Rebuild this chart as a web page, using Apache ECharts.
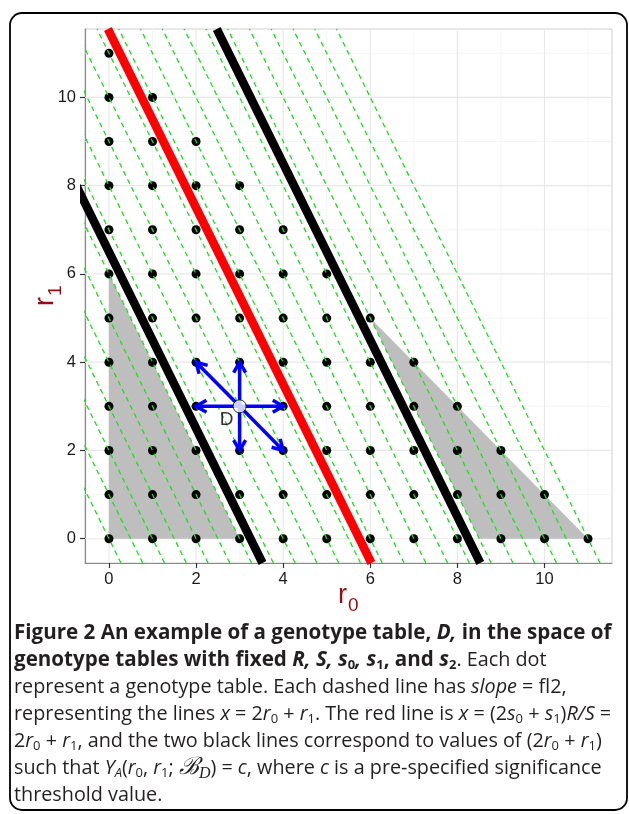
<!DOCTYPE html>
<html><head><meta charset="utf-8">
<script src="https://cdn.jsdelivr.net/npm/echarts@6/dist/echarts.min.js"></script>
<style>html,body{margin:0;padding:0;background:#fff}#c{width:629px;height:814px}</style>
</head><body><div id="c"></div>
<script>
// ---- data ----
const xTicks = [0, 2, 4, 6, 8, 10];
const yTicks = [0, 2, 4, 6, 8, 10];
const xMinorGrid = [1, 3, 5, 7, 9, 11];
const yMinorGrid = [1, 3, 5, 7, 9, 11];
const axisMin = -0.55, axisMax = 11.55;
// genotype tables: for each row r1, the largest r0 present
const rowR1 = [0, 1, 2, 3, 4, 5, 6, 7, 8, 9, 10, 11];
const rowMaxR0 = [11, 10, 9, 8, 7, 6, 5, 4, 3, 2, 1, 0];
// dashed lines 2*r0 + r1 = c
const dashedC = [0, 1, 2, 3, 4, 5, 6, 7, 8, 9, 10, 11, 12, 13, 14, 15, 16, 17, 18, 19, 20, 21, 22];
const redC = 11.5;
const blackC = [6.5, 16.5];
const grayLeft = [[0, 0], [0, 6], [3, 0]];
const grayRight = [[6, 5], [11, 0], [8.5, 0]];
const tableD = [3, 3];
const moves = [[2, 4], [3, 4], [4, 3], [2, 3], [3, 2], [4, 2]];
const labelD = [2.7, 2.7];

// ---- build ----
const points = [];
rowR1.forEach((r1, i) => {
  for (let r0 = 0; r0 <= rowMaxR0[i]; r0++) {
    if (!(r0 === tableD[0] && r1 === tableD[1])) points.push([r0, r1]);
  }
});
function lineFor(c) { return [[(c - axisMin) / 2, axisMin], [(c - axisMax) / 2, axisMax]]; }

const GREEN = '#1fdc1f';
const series = [];
// grid lines
series.push({
  type: 'custom', silent: true, z: 1, data: [[0, 0]],
  renderItem: function (params, api) {
    const ch = [];
    const add = (a, b, col, w) => ch.push({ type: 'line', shape: { x1: a[0], y1: a[1], x2: b[0], y2: b[1] }, style: { stroke: col, lineWidth: w } });
    xMinorGrid.forEach(v => add(api.coord([v, axisMin]), api.coord([v, axisMax]), '#f3f3f3', 0.8));
    yMinorGrid.forEach(v => add(api.coord([axisMin, v]), api.coord([axisMax, v]), '#f3f3f3', 0.8));
    xTicks.forEach(v => add(api.coord([v, axisMin]), api.coord([v, axisMax]), '#e8e8e8', 1.2));
    yTicks.forEach(v => add(api.coord([axisMin, v]), api.coord([axisMax, v]), '#e8e8e8', 1.2));
    return { type: 'group', children: ch };
  }
});
// gray regions
series.push({
  type: 'custom', silent: true, z: 2, data: [0, 1],
  renderItem: function (params, api) {
    const poly = [grayLeft, grayRight][params.dataIndex];
    return { type: 'polygon', shape: { points: poly.map(p => api.coord(p)) }, style: { fill: '#bebebe' } };
  }
});
// points
series.push({ type: 'scatter', z: 3, data: points, symbolSize: 9, itemStyle: { color: '#000', opacity: 1 }, silent: true });
// dashed lines
dashedC.forEach(c => series.push({
  type: 'line', z: 4, data: lineFor(c), symbol: 'none', silent: true, clip: true,
  lineStyle: { color: GREEN, width: 1.3, type: [5, 4] }
}));
// black lines
blackC.forEach(c => series.push({
  type: 'line', z: 5, data: lineFor(c), symbol: 'none', silent: true, clip: true,
  lineStyle: { color: '#000', width: 8.5, cap: 'butt' }
}));
// red line
series.push({
  type: 'line', z: 5, data: lineFor(redC), symbol: 'none', silent: true, clip: true,
  lineStyle: { color: '#ff0000', width: 8.5, cap: 'butt' }
});
// arrows
series.push({
  type: 'custom', silent: true, z: 6, data: moves.map((m, i) => i),
  renderItem: function (params, api) {
    const p0 = api.coord(tableD), p1 = api.coord(moves[params.dataIndex]);
    const a = Math.atan2(p1[1] - p0[1], p1[0] - p0[0]);
    const L = 12, th = Math.PI / 6;
    const h1 = [p1[0] - L * Math.cos(a - th), p1[1] - L * Math.sin(a - th)];
    const h2 = [p1[0] - L * Math.cos(a + th), p1[1] - L * Math.sin(a + th)];
    const st = { stroke: '#0000ff', lineWidth: 3.5, fill: null, lineJoin: 'miter' };
    return { type: 'group', children: [
      { type: 'line', shape: { x1: p0[0], y1: p0[1], x2: p1[0], y2: p1[1] }, style: st },
      { type: 'polyline', shape: { points: [h1, p1, h2] }, style: st }
    ] };
  }
});
// D
series.push({ type: 'scatter', z: 7, data: [tableD], symbolSize: 13, silent: true,
  itemStyle: { color: '#fff', borderColor: '#000', borderWidth: 1 } });
series.push({ type: 'scatter', z: 7, data: [labelD], symbolSize: 0, silent: true,
  label: { show: true, position: 'inside', formatter: 'D', color: '#000', fontSize: 19, fontFamily: 'Liberation Sans' } });

// ---- caption ----
const F = 19.8, FB = 20.6, SF = 13, FONT = 'Open Sans', TC = '#231f20';
const rich = {
  n: { fontFamily: FONT, fontSize: F, fill: TC },
  b: { fontFamily: FONT, fontSize: FB, fontWeight: 'bold', fill: TC },
  bi: { fontFamily: FONT, fontSize: FB, fontWeight: 'bold', fontStyle: 'italic', fill: TC },
  bs: { fontFamily: FONT, fontSize: SF, fontWeight: 'bold', fill: TC, padding: [11, 0, 0, 0] },
  i: { fontFamily: FONT, fontSize: F, fontStyle: 'italic', fill: TC },
  s: { fontFamily: FONT, fontSize: SF, fill: TC, padding: [11, 0, 0, 0] },
  si: { fontFamily: FONT, fontSize: SF, fontStyle: 'italic', fill: TC, padding: [11, 0, 0, 0] },
  sc: { fontFamily: 'DejaVu Serif', fontSize: 24, fontStyle: 'italic', fill: TC },
  scs: { fontFamily: 'Liberation Serif', fontSize: 16, fontStyle: 'italic', fill: TC, padding: [12, 0, 0, 0] }
};
const captionLines = [
  [['b', 'Figure 2 An example of a genotype table, '], ['bi', 'D,'], ['b', ' in the space of']],
  [['b', 'genotype tables with fixed '], ['bi', 'R, S, s'], ['bs', '0'], ['bi', ', s'], ['bs', '1'], ['b', ', and '], ['bi', 's'], ['bs', '2'], ['n', '. Each dot']],
  [['n', 'represent a genotype table. Each dashed line has '], ['i', 'slope'], ['n', ' = fl2,']],
  [['n', 'representing the lines '], ['i', 'x'], ['n', ' = 2'], ['i', 'r'], ['s', '0'], ['n', ' + '], ['i', 'r'], ['s', '1'], ['n', '. The red line is '], ['i', 'x'], ['n', ' = (2'], ['i', 's'], ['s', '0'], ['n', ' + '], ['i', 's'], ['s', '1'], ['n', ')'], ['i', 'R/S'], ['n', ' =']],
  [['n', '2'], ['i', 'r'], ['s', '0'], ['n', ' + '], ['i', 'r'], ['s', '1'], ['n', ', and the two black lines correspond to values of (2'], ['i', 'r'], ['s', '0'], ['n', ' + '], ['i', 'r'], ['s', '1'], ['n', ')']],
  [['n', 'such that '], ['i', 'Y'], ['si', 'A'], ['n', '('], ['i', 'r'], ['s', '0'], ['n', ', '], ['i', 'r'], ['s', '1'], ['n', '; '], ['sc', '\u212C'], ['scs', 'D'], ['n', ') = '], ['i', 'c'], ['n', ', where '], ['i', 'c'], ['n', ' is a pre-specified significance']],
  [['n', 'threshold value.']]
];
const AXC = '#8e1010';
const graphics = [
  { type: 'rect', z: 0, shape: { x: 10, y: 13, width: 617, height: 797, r: 12 }, style: { fill: 'none', stroke: '#000', lineWidth: 1.8 } },
  { type: 'text', z: 10, x: 338, y: 596, style: { text: '{r|r}{s|0}', verticalAlign: 'middle', rich: {
      r: { fontFamily: 'Liberation Sans', fontSize: 27, fill: AXC },
      s: { fontFamily: 'Liberation Sans', fontSize: 19, fill: AXC, padding: [19, 0, 0, 1] } } } },
  { type: 'text', z: 10, x: 46, y: 306, rotation: Math.PI / 2, style: { text: '{r|r}{s|1}', verticalAlign: 'middle', rich: {
      r: { fontFamily: 'Liberation Sans', fontSize: 27, fill: AXC },
      s: { fontFamily: 'Liberation Sans', fontSize: 19, fill: AXC, padding: [19, 0, 0, 1] } } } }
];
captionLines.forEach((ln, k) => {
  graphics.push({ type: 'text', z: 10, x: 14, y: 633 + 27 * k, style: {
    text: ln.map(t => '{' + t[0] + '|' + t[1] + '}').join(''), verticalAlign: 'middle', rich: rich } });
});

const axisCommon = {
  type: 'value', min: axisMin, max: axisMax,
  splitLine: { show: false },
  axisLine: { show: true, onZero: false, lineStyle: { color: '#8a8a8a', width: 1.2 } },
  axisTick: { show: true, length: 5, lineStyle: { color: '#333', width: 1.2 } },
  axisLabel: { color: '#1a1a1a', fontSize: 16.5, fontFamily: 'Liberation Sans' }
};
const chart = echarts.init(document.getElementById('c'), null, { renderer: 'canvas' });
chart.setOption({
  animation: false,
  backgroundColor: '#fff',
  grid: { left: 85, top: 29, right: 17, bottom: 251, show: true, borderColor: '#cfcfcf', borderWidth: 1, backgroundColor: 'transparent' },
  xAxis: Object.assign({}, axisCommon, {
    axisTick: Object.assign({}, axisCommon.axisTick, { customValues: xTicks }),
    axisLabel: Object.assign({}, axisCommon.axisLabel, { customValues: xTicks, margin: 8 })
  }),
  yAxis: Object.assign({}, axisCommon, {
    axisTick: Object.assign({}, axisCommon.axisTick, { customValues: yTicks }),
    axisLabel: Object.assign({}, axisCommon.axisLabel, { customValues: yTicks, margin: 9 })
  }),
  series: series,
  graphic: graphics
});
</script></body></html>
